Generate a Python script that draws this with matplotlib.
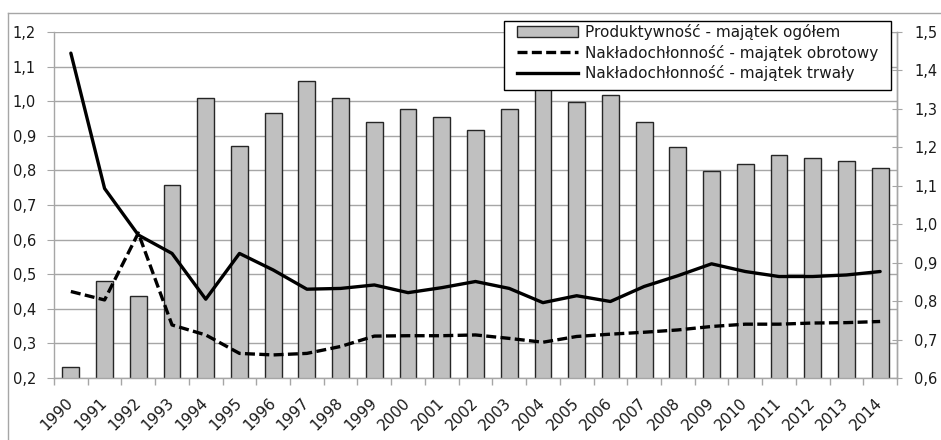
import numpy as np
import matplotlib
matplotlib.use("Agg")
import matplotlib.pyplot as plt
from matplotlib.patches import Patch, Rectangle
from matplotlib.lines import Line2D
from matplotlib.ticker import FixedLocator, FuncFormatter

years = [str(y) for y in range(1990, 2015)]

# Produktywność - majątek ogółem (left axis)
produktywnosc = [0.233, 0.480, 0.436, 0.758, 1.010, 0.871, 0.965, 1.059, 1.010,
                 0.941, 0.977, 0.953, 0.917, 0.978, 1.060, 0.999, 1.018, 0.941,
                 0.868, 0.798, 0.819, 0.844, 0.835, 0.827, 0.807]

# Nakładochłonność - majątek obrotowy (right axis)
naklad_obrotowy = [0.825, 0.803, 0.977, 0.738, 0.712, 0.664, 0.660, 0.664, 0.682,
                   0.709, 0.710, 0.710, 0.712, 0.703, 0.693, 0.708, 0.714, 0.719,
                   0.725, 0.734, 0.740, 0.740, 0.743, 0.744, 0.747]

# Nakładochłonność - majątek trwały (right axis)
naklad_trwaly = [1.445, 1.093, 0.972, 0.924, 0.805, 0.924, 0.881, 0.831, 0.833,
                 0.842, 0.822, 0.835, 0.851, 0.833, 0.796, 0.814, 0.799, 0.838,
                 0.866, 0.897, 0.877, 0.864, 0.864, 0.868, 0.877]

left_ticks = [0.2, 0.3, 0.4, 0.5, 0.6, 0.7, 0.8, 0.9, 1.0, 1.1, 1.2]
right_ticks = [0.6, 0.7, 0.8, 0.9, 1.0, 1.1, 1.2, 1.3, 1.4, 1.5]

labels = ["Produktywność - majątek ogółem",
          "Nakładochłonność - majątek obrotowy",
          "Nakładochłonność - majątek trwały"]

GRID = "#a6a6a6"
TXT = "#1a1a1a"
FS = 10.5
DASH = (0, (3.0, 1.3))


def comma(v, _pos=None):
    return f"{v:.1f}".replace(".", ",")


fig = plt.figure(figsize=(9.41, 4.40), dpi=100)
ax = fig.add_axes([54 / 941, 1 - 378 / 440, 843 / 941, 346 / 440])
ax2 = ax.twinx()

x = np.arange(len(years))

# Bars on the primary axis
ax.bar(x, produktywnosc, width=0.5, bottom=0, color="#c0c0c0",
       edgecolor="#262626", linewidth=1.0, zorder=2)
ax.set_ylim(0.2, 1.2)
ax.set_xlim(-0.5, len(years) - 0.5)
ax.yaxis.set_major_locator(FixedLocator(left_ticks))
ax.yaxis.set_major_formatter(FuncFormatter(comma))
ax.grid(axis="y", color=GRID, linewidth=1.0, zorder=0)
ax.set_axisbelow(True)

# Lines on the secondary axis
ax2.set_ylim(0.6, 1.5)
ax2.yaxis.set_major_locator(FixedLocator(right_ticks))
ax2.yaxis.set_major_formatter(FuncFormatter(comma))
ax2.plot(x, naklad_obrotowy, color="black", linewidth=2.4,
         linestyle=DASH, dash_capstyle="butt", dash_joinstyle="round", zorder=3)
ax2.plot(x, naklad_trwaly, color="black", linewidth=2.4,
         solid_joinstyle="round", solid_capstyle="round", zorder=3)

# X ticks at category boundaries, labels at category centres
ax.set_xticks(np.arange(-0.5, len(years) + 0.5, 1.0))
ax.set_xticklabels([])
ax.set_xticks(x, minor=True)
ax.set_xticklabels(years, minor=True, rotation=45, ha="right", va="center",
                   rotation_mode="anchor", fontsize=11, color=TXT)
ax.tick_params(axis="x", which="major", direction="out", length=5,
               color=GRID, width=1.0)
ax.tick_params(axis="x", which="minor", length=0, pad=16)
ax.tick_params(axis="y", direction="out", length=5, color=GRID,
               labelsize=FS, labelcolor=TXT, pad=8)
ax2.tick_params(axis="y", direction="inout", length=7, color=GRID,
                labelsize=FS, labelcolor=TXT, pad=9)

for a in (ax, ax2):
    a.spines["top"].set_visible(False)
    for s in ("left", "right", "bottom"):
        a.spines[s].set_color(GRID)
        a.spines[s].set_linewidth(1.0)
ax2.spines["left"].set_visible(False)
ax2.spines["bottom"].set_visible(False)

# Legend: white box with black border, entries placed inside it
ax2.add_patch(Rectangle(((504 - 54) / 843, (378 - 90) / 346), 387 / 843, 69 / 346,
                        transform=ax2.transAxes, facecolor="white",
                        edgecolor="black", linewidth=1.0, clip_on=False,
                        zorder=4.5))
handles = [Patch(facecolor="#c0c0c0", edgecolor="#262626", linewidth=1.0),
           Line2D([], [], color="black", linewidth=2.4, linestyle=DASH,
                  dash_capstyle="butt"),
           Line2D([], [], color="black", linewidth=2.4)]
leg = ax2.legend(handles, labels, loc="upper left",
                 bbox_to_anchor=((517 - 54) / 843, (378 - 24) / 346),
                 fontsize=11, frameon=False, borderpad=0.0, borderaxespad=0.0,
                 handlelength=4.0, handletextpad=0.45, labelspacing=0.31)
leg.set_zorder(5)
for t in leg.get_texts():
    t.set_color(TXT)

# Chart area border
fig.add_artist(Line2D([8 / 941, 8 / 941], [0, 1 - 13 / 440], color=GRID,
                      linewidth=1.0, transform=fig.transFigure))
fig.add_artist(Line2D([8 / 941, 1], [1 - 13 / 440, 1 - 13 / 440], color=GRID,
                      linewidth=1.0, transform=fig.transFigure))

fig.savefig("out.png", dpi=100)
